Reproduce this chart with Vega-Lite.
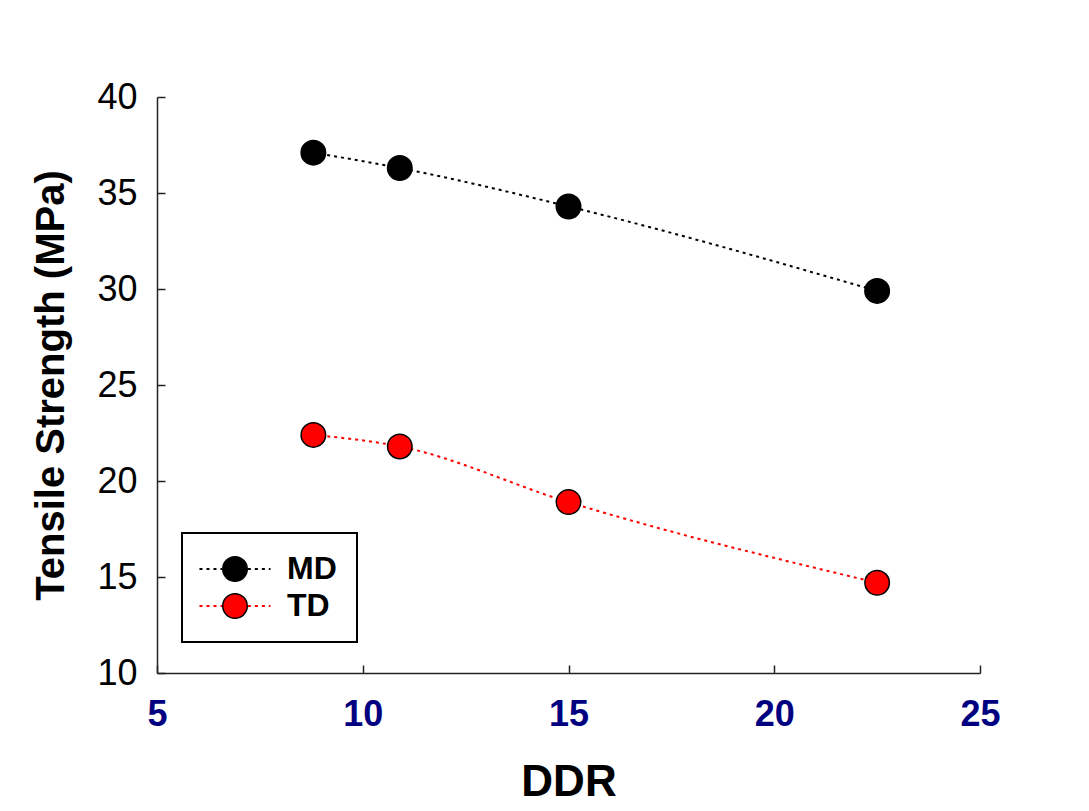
{
  "$schema": "https://vega.github.io/schema/vega-lite/v6.json",
  "width": 823,
  "height": 576,
  "autosize": {"type": "none"},
  "padding": {"left": 157, "top": 97, "right": 109, "bottom": 138},
  "background": "white",
  "config": {
    "view": {"stroke": null},
    "font": "Liberation Sans",
    "legend": {"strokeWidth": 2}
  },
  "data": {
    "values": [
      {"series": "MD", "DDR": 8.8, "TS": 37.1},
      {"series": "MD", "DDR": 10.9, "TS": 36.3},
      {"series": "MD", "DDR": 15.0, "TS": 34.3},
      {"series": "MD", "DDR": 22.5, "TS": 29.9},
      {"series": "TD", "DDR": 8.8, "TS": 22.4},
      {"series": "TD", "DDR": 10.9, "TS": 21.8},
      {"series": "TD", "DDR": 15.0, "TS": 18.9},
      {"series": "TD", "DDR": 22.5, "TS": 14.7}
    ]
  },
  "encoding": {
    "x": {
      "field": "DDR",
      "type": "quantitative",
      "scale": {"domain": [5, 25], "nice": false, "zero": false},
      "axis": {
        "values": [5, 10, 15, 20, 25],
        "title": "DDR",
        "titleFont": "Liberation Sans",
        "titleFontSize": 44,
        "titleFontWeight": "bold",
        "titleColor": "black",
        "titlePadding": 28,
        "labelFont": "Liberation Sans",
        "labelFontSize": 36,
        "labelFontWeight": "bold",
        "labelColor": "#000080",
        "labelPadding": 32,
        "labelFlush": false,
        "labelOverlap": false,
        "tickSize": -8,
        "tickColor": "#222222",
        "tickWidth": 1.5,
        "domainColor": "#222222",
        "domainWidth": 1.5,
        "grid": false
      }
    },
    "y": {
      "field": "TS",
      "type": "quantitative",
      "scale": {"domain": [10, 40], "nice": false, "zero": false},
      "axis": {
        "values": [10, 15, 20, 25, 30, 35, 40],
        "title": "Tensile Strength (MPa)",
        "titleFont": "Liberation Sans",
        "titleFontSize": 40,
        "titleFontWeight": "bold",
        "titleColor": "black",
        "titlePadding": 25,
        "labelFont": "Liberation Sans",
        "labelFontSize": 36,
        "labelColor": "black",
        "labelPadding": 28,
        "labelFlush": false,
        "labelOverlap": false,
        "tickSize": -8,
        "tickColor": "#222222",
        "tickWidth": 1.5,
        "domainColor": "#222222",
        "domainWidth": 1.5,
        "grid": false
      }
    }
  },
  "layer": [
    {
      "mark": {"type": "line", "interpolate": "monotone", "strokeDash": [3, 4], "strokeWidth": 2},
      "encoding": {
        "stroke": {
          "field": "series",
          "type": "nominal",
          "scale": {"range": ["black", "red"]},
          "legend": {
            "orient": "none",
            "legendX": 25,
            "legendY": 436,
            "title": null,
            "symbolType": "M-2.9,0H-1.05M1.05,0H2.9",
            "symbolSize": 600,
            "symbolStrokeWidth": 2,
            "symbolDash": [3, 4],
            "labelFont": "Liberation Sans",
            "labelFontSize": 32,
            "labelFontWeight": "bold",
            "labelColor": "transparent",
            "padding": 20,
            "rowPadding": 5,
            "symbolOffset": 17,
            "labelOffset": 36,
            "strokeColor": "transparent"
          }
        }
      }
    },
    {
      "mark": {"type": "point", "filled": true, "shape": "circle", "size": 600, "stroke": "black", "strokeWidth": 1.5, "opacity": 1},
      "encoding": {
        "fill": {
          "field": "series",
          "type": "nominal",
          "scale": {"domain": ["MD", "TD"], "range": ["black", "red"]},
          "legend": {
            "orient": "none",
            "legendX": 25,
            "legendY": 436,
            "title": null,
            "symbolType": "circle",
            "symbolSize": 600,
            "symbolStrokeColor": "black",
            "symbolStrokeWidth": 1.5,
            "symbolOpacity": 1,
            "labelFont": "Liberation Sans",
            "labelFontSize": 32,
            "labelFontWeight": "bold",
            "labelColor": "black",
            "padding": 20,
            "rowPadding": 5,
            "symbolOffset": 17,
            "labelOffset": 36,
            "strokeColor": "black"
          }
        }
      }
    }
  ]
}
